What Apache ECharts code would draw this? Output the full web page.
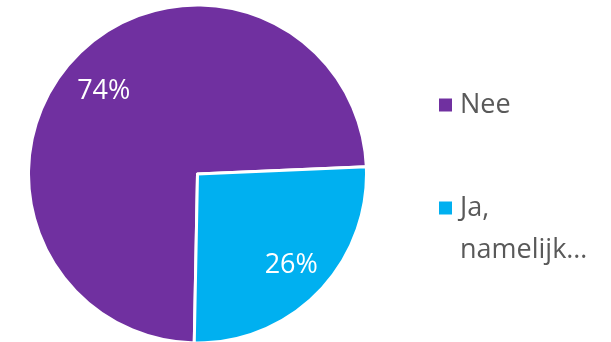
<!DOCTYPE html>
<html>
<head>
<meta charset="utf-8">
<script src="https://cdn.jsdelivr.net/npm/echarts@6/dist/echarts.min.js"></script>
<style>
  html, body { margin: 0; padding: 0; background: #fff; }
  #chart { width: 611px; height: 342px; }
</style>
</head>
<body>
<div id="chart"></div>
<script>
// Survey answers and their shares (percent)
const categories = ['Nee', 'Ja, namelijk…'];
const legendLabels = ['Nee', '\nJa,\nnamelijk…'];
const shares = [74, 26];
const colors = ['#7030A0', '#00B0F0'];

const FONT = '"Open Sans", "Noto Sans", sans-serif';
const CENTER = [197.5, 174];

const pieData = categories.map((name, i) => ({
  name,
  value: shares[i],
  itemStyle: { color: colors[i] }
}));

const chart = echarts.init(document.getElementById('chart'), null, { renderer: 'canvas' });

chart.setOption({
  animation: false,
  legend: {
    orient: 'vertical',
    left: 432,
    top: 79,
    icon: 'rect',
    itemWidth: 15,
    itemHeight: 15,
    itemGap: 19,
    selectedMode: false,
    data: categories,
    formatter: (name) => legendLabels[categories.indexOf(name)],
    textStyle: {
      color: '#595959',
      fontFamily: FONT,
      fontSize: 27,
      lineHeight: 42,
      padding: [0, 0, 0, 2]
    }
  },
  series: [
    {
      type: 'pie',
      center: CENTER,
      radius: [0, 169],
      startAngle: 268.9,
      clockwise: true,
      silent: true,
      label: { show: false },
      labelLine: { show: false },
      itemStyle: { borderColor: '#ffffff', borderWidth: 3 },
      data: pieData
    },
    {
      // transparent ring used only to place the percentage labels
      type: 'pie',
      center: CENTER,
      radius: [86, 164],
      startAngle: 270.3,
      clockwise: true,
      silent: true,
      legendHoverLink: false,
      itemStyle: { color: 'rgba(0,0,0,0)', borderWidth: 0 },
      label: {
        show: true,
        position: 'inside',
        offset: [0, 4],
        formatter: (p) => p.value + '%',
        color: '#ffffff',
        fontFamily: FONT,
        fontSize: 27
      },
      labelLine: { show: false },
      data: categories.map((name, i) => ({ name, value: shares[i] }))
    }
  ]
});
</script>
</body>
</html>
